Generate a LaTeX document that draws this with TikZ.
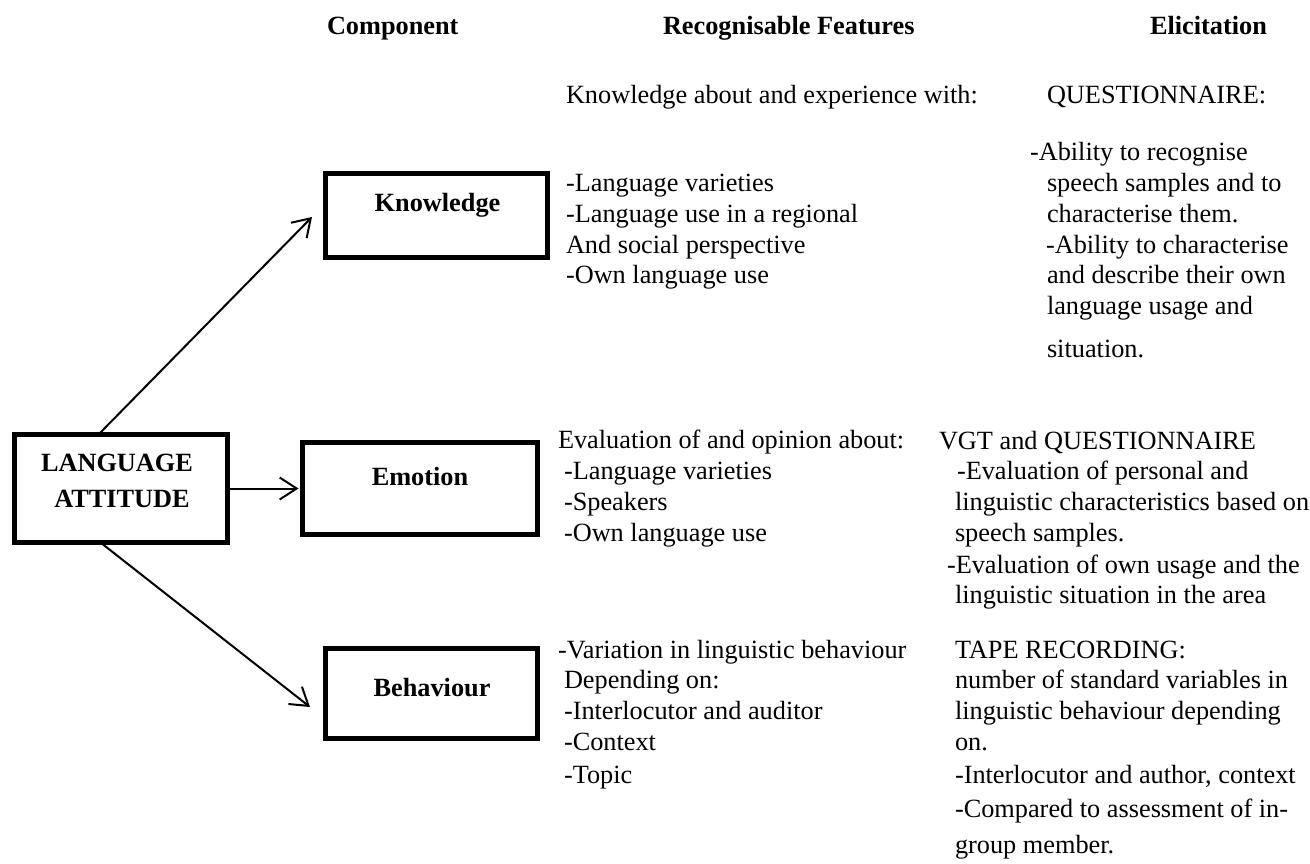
\documentclass[tikz,border=0pt]{standalone}
\usepackage{fontspec}
\setmainfont{Liberation Serif}
\usetikzlibrary{arrows.meta,calc}
\tikzset{
  txt/.style={inner sep=0pt, outer sep=0pt, font=\fontsize{26.3}{30.7}\selectfont},
  head/.style={txt, font=\fontsize{26.3}{30.7}\selectfont\bfseries, anchor=base west},
  oneline/.style={txt, anchor=base west},
  block/.style={txt, align=left, anchor=north west},
  compbox/.style={draw, line width=5pt, inner sep=0pt, outer sep=0pt},
  boxlabel/.style={txt, font=\fontsize{26.3}{30.7}\selectfont\bfseries, anchor=base},
  link/.style={line width=2pt, -{Straight Barb[length=17pt,width=22pt]}},
}
\begin{document}
\begin{tikzpicture}[x=1pt,y=-1pt]
\useasboundingbox (0,0) rectangle (1310,863);

% column headings
\node[head] (hcomp) at (327,34.5) {Component};
\node[head] (hfeat) at (663,34.5) {Recognisable Features};
\node[head] (helic) at (1150,34.5) {Elicitation};

% component boxes
\node[compbox, minimum width=213pt, minimum height=108pt] (la) at (121,488.5) {};
\node[boxlabel] (latop) at (117,471.7) {LANGUAGE};
\node[boxlabel] (labot) at (122,507.7) {ATTITUDE};

\node[compbox, minimum width=222pt, minimum height=84pt] (kn) at (436.5,215.5) {};
\node[boxlabel] (kntxt) at (437.5,211.7) {Knowledge};

\node[compbox, minimum width=235pt, minimum height=92pt] (em) at (420,488.5) {};
\node[boxlabel] (emtxt) at (420,485) {Emotion};

\node[compbox, minimum width=212pt, minimum height=90pt] (be) at (431.5,693.5) {};
\node[boxlabel] (betxt) at (432,696) {Behaviour};

% connectors
\draw[link] ($(la.north west)+(84,0)$) -- ($(kn.west)+(-13.5,1.5)$);
\draw[link] (la.east) -- ($(em.west)+(-4,0)$);
\draw[link] ($(la.south west)+(86,0)$) -- ($(be.west)+(-15.5,13.5)$);

% knowledge row
\node[oneline] (kintro) at (566,103) {Knowledge about and experience with:};
\node[oneline] (kqhead) at (1047,103) {QUESTIONNAIRE:};
\node[block] (kfeat) at (566,170.2) {\strut-Language varieties\\-Language use in a regional\\And social perspective\\-Own language use};
\node[block] (kelic) at (1030,139.5) {\strut-Ability to recognise\\
  \hspace*{17pt}speech samples and to\\
  \hspace*{17pt}characterise them.\\
  \hspace*{16pt}-Ability to characterise\\
  \hspace*{17pt}and describe their own\\
  \hspace*{17pt}language usage and\\[12pt]
  \hspace*{17pt}situation.};

% emotion row
\node[block] (efeat) at (558,427.5) {\strut Evaluation of and opinion about:\\
  \hspace*{6pt}-Language varieties\\
  \hspace*{6pt}-Speakers\\
  \hspace*{6pt}-Own language use};
\node[block] (eelic) at (939,427.5) {\strut VGT and QUESTIONNAIRE\\
  \hspace*{18pt}-Evaluation of personal and\\
  \hspace*{16pt}linguistic characteristics based on\\
  \hspace*{16pt}speech samples.\\[1.5pt]
  \hspace*{8pt}-Evaluation of own usage and the\\
  \hspace*{16pt}linguistic situation in the area};

% behaviour row
\node[block] (bfeat) at (558,636.5) {\strut-Variation in linguistic behaviour\\
  \hspace*{6pt}Depending on:\\
  \hspace*{6pt}-Interlocutor and auditor\\
  \hspace*{6pt}-Context\\[2.3pt]
  \hspace*{6pt}-Topic};
\node[block] (belic) at (955,636.5) {\strut TAPE RECORDING:\\
  number of standard variables in\\
  linguistic behaviour depending\\
  on.\\[2.3pt]
  -Interlocutor and author, context\\[3.3pt]
  -Compared to assessment of in-\\[5.3pt]
  group member.};
\end{tikzpicture}
\end{document}
